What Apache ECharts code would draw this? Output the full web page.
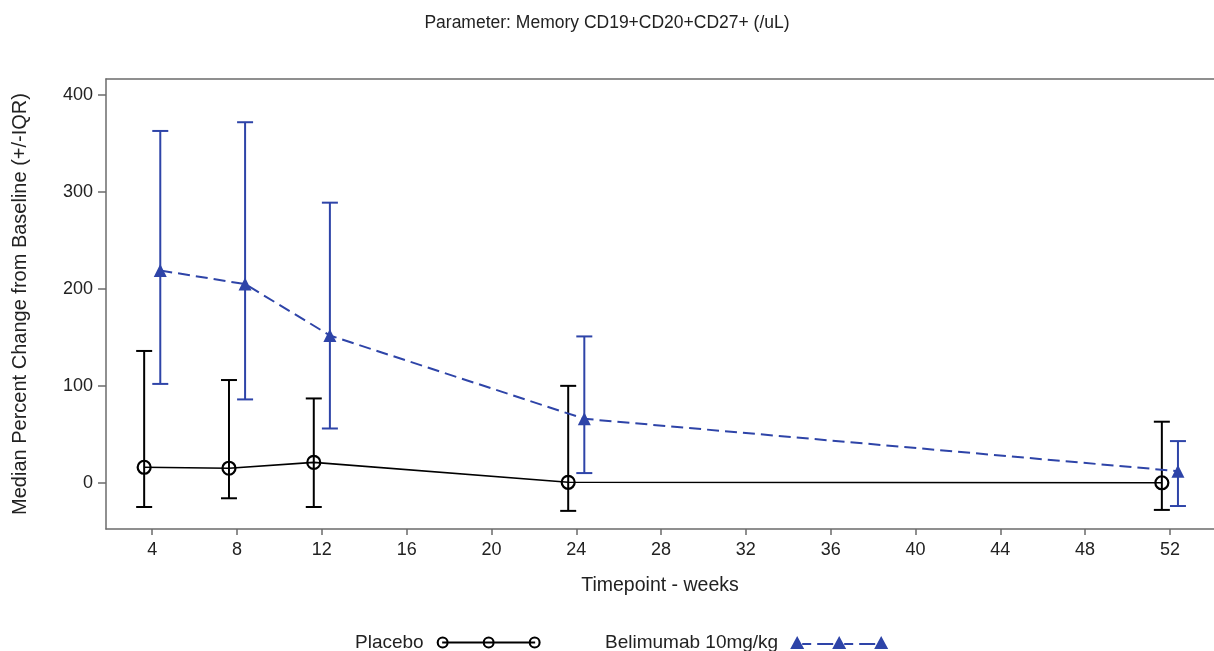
<!DOCTYPE html>
<html>
<head>
<meta charset="utf-8">
<script src="https://cdn.jsdelivr.net/npm/echarts@6/dist/echarts.min.js"></script>
<style>
  html, body { margin: 0; padding: 0; background: #fff; }
  #chart { width: 1214px; height: 651px; }
</style>
</head>
<body>
<div id="chart"></div>
<script>
// ---- data ----
const weeks = [4, 8, 12, 24, 52];
const xTicks = [4, 8, 12, 16, 20, 24, 28, 32, 36, 40, 44, 48, 52];
const yTicks = [0, 100, 200, 300, 400];

const placeboMedian = [16, 15, 21, 0.5, 0];
const placeboQ1 = [-25, -16, -25, -29, -28];
const placeboQ3 = [136, 106, 87, 100, 63];

const belMedian = [219, 205, 152, 66, 12];
const belQ1 = [102, 86, 56, 10, -24];
const belQ3 = [363, 372, 289, 151, 43];

const titleText = 'Parameter: Memory CD19+CD20+CD27+ (/uL)';
const xName = 'Timepoint - weeks';
const yName = 'Median Percent Change from Baseline (+/-IQR)';
const nameP = 'Placebo';
const nameB = 'Belimumab 10mg/kg';

// ---- styling / layout ----
const FONT = 'Liberation Sans, Arial, sans-serif';
const BLUE = '#2E44A8';
const BLACK = '#000000';
const DODGE_P = -0.38, DODGE_B = 0.38;
const X_MIN = 1.82, X_MAX = 54.08;

const chart = echarts.init(document.getElementById('chart'), null, { renderer: 'canvas' });

function errBar(color, lw) {
  return function (params, api) {
    const x = api.value(0);
    const top = api.coord([x, api.value(2)]);
    const bot = api.coord([x, api.value(1)]);
    const hw = 8;
    const st = { stroke: color, lineWidth: lw };
    return {
      type: 'group',
      children: [
        { type: 'line', shape: { x1: top[0], y1: top[1], x2: bot[0], y2: bot[1] }, style: st },
        { type: 'line', shape: { x1: top[0] - hw, y1: top[1], x2: top[0] + hw, y2: top[1] }, style: st },
        { type: 'line', shape: { x1: bot[0] - hw, y1: bot[1], x2: bot[0] + hw, y2: bot[1] }, style: st }
      ]
    };
  };
}

const iconP = 'path://M6,5.5 L99,5.5 L99,7.5 L6,7.5 Z ' +
  'M0.5,6.5 A6,6 0 1,1 12.5,6.5 A6,6 0 1,1 0.5,6.5 Z M2.6,6.5 A3.9,3.9 0 1,0 10.4,6.5 A3.9,3.9 0 1,0 2.6,6.5 Z ' +
  'M46.5,6.5 A6,6 0 1,1 58.5,6.5 A6,6 0 1,1 46.5,6.5 Z M48.6,6.5 A3.9,3.9 0 1,0 56.4,6.5 A3.9,3.9 0 1,0 48.6,6.5 Z ' +
  'M92.5,6.5 A6,6 0 1,1 104.5,6.5 A6,6 0 1,1 92.5,6.5 Z M94.6,6.5 A3.9,3.9 0 1,0 102.4,6.5 A3.9,3.9 0 1,0 94.6,6.5 Z';
const iconB = 'path://M7,0 L14,13 L0,13 Z M49,0 L56,13 L42,13 Z M91,0 L98,13 L84,13 Z ' +
  'M12,7 L21,7 L21,9 L12,9 Z M27,7 L43,7 L43,9 L27,9 Z ' +
  'M54,7 L63,7 L63,9 L54,9 Z M69,7 L85,7 L85,9 L69,9 Z';

const axisGray = '#6b6b6b';

const option = {
  backgroundColor: '#ffffff',
  animation: false,
  textStyle: { fontFamily: FONT },
  title: {
    text: titleText,
    left: 'center',
    top: 9,
    textStyle: { fontFamily: FONT, fontSize: 17.5, fontWeight: 'normal', color: '#222' }
  },
  legend: [
    {
      left: 350, top: 628, align: 'right',
      itemWidth: 104, itemHeight: 12,
      selectedMode: false,
      textStyle: { fontFamily: FONT, fontSize: 19, color: '#222', padding: [0, 8, 0, 0] },
      data: [{ name: nameP, icon: iconP, itemStyle: { color: BLACK, borderWidth: 0 } }]
    },
    {
      left: 600, top: 628, align: 'right',
      itemWidth: 98, itemHeight: 13,
      selectedMode: false,
      textStyle: { fontFamily: FONT, fontSize: 19, color: '#222', padding: [0, 7, 0, 0] },
      data: [{ name: nameB, icon: iconB, itemStyle: { color: BLUE, borderWidth: 0 } }]
    }
  ],
  grid: {
    left: 106, right: 0, top: 79, bottom: 122,
    show: false
  },
  xAxis: [
    {
      type: 'value',
      min: X_MIN, max: X_MAX,
      name: xName, nameLocation: 'middle', nameGap: 47,
      nameTextStyle: { fontFamily: FONT, fontSize: 19.5, color: '#222' },
      splitLine: { show: false },
      axisLine: { show: true, onZero: false, lineStyle: { color: axisGray, width: 1.5 } },
      axisTick: { show: true, length: 6, lineStyle: { color: axisGray, width: 1.5 }, customValues: xTicks },
      axisLabel: { fontFamily: FONT, fontSize: 18, color: '#222', margin: 12, customValues: xTicks }
    },
    {
      type: 'value', position: 'top',
      min: X_MIN, max: X_MAX,
      splitLine: { show: false },
      axisLine: { show: true, onZero: false, lineStyle: { color: axisGray, width: 1.5 } },
      axisTick: { show: false },
      axisLabel: { show: false }
    }
  ],
  yAxis: {
    type: 'value',
    min: -47.7, max: 416.6,
    name: yName, nameLocation: 'middle', nameGap: 76, nameRotate: 90,
    nameTextStyle: { fontFamily: FONT, fontSize: 20, color: '#222' },
    splitLine: { show: false },
    axisLine: { show: true, onZero: false, lineStyle: { color: axisGray, width: 1.5 } },
    axisTick: { show: true, length: 8, lineStyle: { color: axisGray, width: 1.5 }, customValues: yTicks },
    axisLabel: { fontFamily: FONT, fontSize: 18, color: '#222', margin: 13, customValues: yTicks }
  },
  series: [
    {
      name: nameP, type: 'custom', z: 2, silent: true,
      renderItem: errBar(BLACK, 2),
      data: weeks.map((w, i) => [w + DODGE_P, placeboQ1[i], placeboQ3[i]])
    },
    {
      name: nameB, type: 'custom', z: 2, silent: true,
      renderItem: errBar(BLUE, 2),
      data: weeks.map((w, i) => [w + DODGE_B, belQ1[i], belQ3[i]])
    },
    {
      name: nameP, type: 'line', z: 3,
      data: weeks.map((w, i) => [w + DODGE_P, placeboMedian[i]]),
      symbol: 'circle', symbolSize: 13, showAllSymbol: true,
      itemStyle: { color: 'transparent', borderColor: BLACK, borderWidth: 2.2 },
      lineStyle: { color: BLACK, width: 1.6, type: 'solid' },
      emphasis: { disabled: true }
    },
    {
      name: nameB, type: 'line', z: 3,
      data: weeks.map((w, i) => [w + DODGE_B, belMedian[i]]),
      symbol: 'triangle', symbolSize: 13, showAllSymbol: true,
      itemStyle: { color: BLUE },
      lineStyle: { color: BLUE, width: 2, type: [12, 6] },
      emphasis: { disabled: true }
    }
  ]
};

chart.setOption(option);
</script>
</body>
</html>
